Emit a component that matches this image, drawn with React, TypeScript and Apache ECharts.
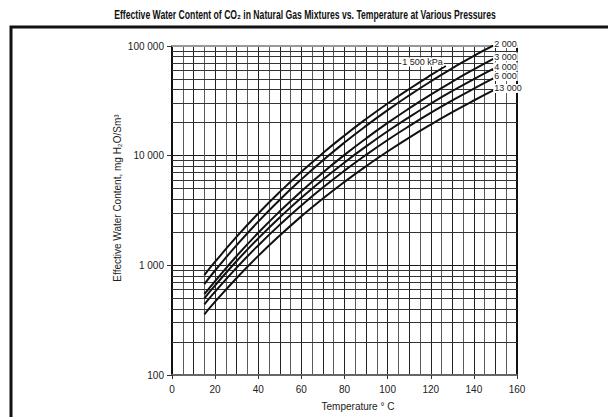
import React, { useEffect, useRef } from "react";
import * as echarts from "echarts";

// Temperatures (°C) at which curves were read
const temperatures = [15, 20, 30, 40, 50, 60, 70, 80, 90, 100, 110, 120, 130, 140, 149];
const temperatures1500 = [15, 20, 30, 40, 50, 60, 70, 80, 90, 100, 110, 120, 127];

// Effective water content, mg H2O/Sm3
const water1500 = [816, 1079, 1825, 2972, 4673, 7125, 10570, 15280, 21590, 29900, 40570, 54200, 65700];
const water2000 = [675, 897, 1528, 2504, 3963, 6078, 9066, 13180, 18700, 26010, 35480, 47540, 62710, 81470, 101000];
const water3000 = [545, 719, 1217, 1980, 3112, 4745, 7036, 10170, 14360, 19880, 26990, 36040, 47330, 61250, 76400];
const water4000 = [500, 656, 1095, 1760, 2736, 4126, 6058, 8674, 12150, 16690, 22480, 29790, 38870, 49990, 61900];
const water6000 = [441, 575, 953, 1519, 2345, 3513, 5126, 7299, 10170, 13890, 18620, 24550, 31920, 40890, 50600];
const water13000 = [357, 466, 767, 1219, 1875, 2798, 4064, 5768, 8017, 10920, 14620, 19230, 24910, 31840, 39300];

const curveLabels = ["1 500 kPa", "2 000", "3 000", "4 000", "6 000", "13 000"];

// Log-grid minor lines
const minorYLines = [
  200, 300, 400, 500, 600, 700, 800, 900,
  2000, 3000, 4000, 5000, 6000, 7000, 8000, 9000,
  20000, 30000, 40000, 50000, 60000, 70000, 80000, 90000,
];

const FONT = '"Liberation Sans", Arial, Helvetica, sans-serif';

function fmt(v: number) {
  return String(Math.round(v)).replace(/\B(?=(\d{3})+(?!\d))/g, " ");
}

export default function App() {
  const ref = useRef<HTMLDivElement>(null);
  useEffect(() => {
    if (!ref.current) return;
    const chart = echarts.init(ref.current, undefined, { renderer: "svg" });

    const curves = [
      { t: temperatures1500, v: water1500 },
      { t: temperatures, v: water2000 },
      { t: temperatures, v: water3000 },
      { t: temperatures, v: water4000 },
      { t: temperatures, v: water6000 },
      { t: temperatures, v: water13000 },
    ];

    const curveSeries = curves.map((c, i) => ({
      type: "line",
      name: curveLabels[i],
      xAxisIndex: 0,
      yAxisIndex: 0,
      data: c.t.map((t, j) => [t, c.v[j]]),
      smooth: true,
      showSymbol: false,
      symbol: "none",
      z: 5,
      lineStyle: { color: "#111", width: 2 },
      itemStyle: { color: "#111" },
      endLabel: {
        show: true,
        formatter: curveLabels[i],
        fontFamily: FONT,
        fontSize: 9,
        color: "#222",
        backgroundColor: "#fff",
        padding: [0, 1],
        distance: i === 0 ? 4 : 0,
        align: i === 0 ? "right" : "left",
        offset: i === 0 ? [-6, -4] : [0, -2],
      },
    }));

    const gridSeries = {
      type: "line",
      xAxisIndex: 0,
      yAxisIndex: 0,
      data: [[0, 100]],
      showSymbol: false,
      symbol: "none",
      lineStyle: { opacity: 0 },
      silent: true,
      z: 1,
      markLine: {
        silent: true,
        symbol: "none",
        animation: false,
        label: { show: false },
        lineStyle: { color: "#333", width: 1, type: "solid", opacity: 1 },
        data: minorYLines.map((v) => ({ yAxis: v })),
      },
    };

    chart.setOption({
      animation: false,
      backgroundColor: "#fff",
      grid: { left: 172, right: 91, top: 46, bottom: 42, containLabel: false },
      xAxis: [
        {
          type: "value",
          min: 0,
          max: 160,
          interval: 20,
          position: "bottom",
          axisLine: { show: true, onZero: false, lineStyle: { color: "#666", width: 2 } },
          axisTick: { show: true, length: 4, lineStyle: { color: "#333" } },
          axisLabel: { margin: 9, fontSize: 10, color: "#222", fontFamily: FONT },
          splitLine: { show: true, lineStyle: { color: "#1a1a1a", width: 1 } },
          minorTick: { show: false, splitNumber: 4 },
          minorSplitLine: { show: true, lineStyle: { color: "#5a5a5a", width: 1 } },
        },
        {
          type: "value",
          min: 0,
          max: 160,
          interval: 10,
          position: "top",
          axisLine: { show: true, onZero: false, lineStyle: { color: "#999", width: 2 } },
          axisTick: { show: false },
          axisLabel: { show: false },
          splitLine: { show: true, lineStyle: { color: "#222", width: 1 } },
        },
      ],
      yAxis: [
        {
          type: "log",
          logBase: 10,
          min: 100,
          max: 100000,
          position: "left",
          axisLine: { show: true, onZero: false, lineStyle: { color: "#111", width: 2 } },
          axisTick: { show: true, length: 5, lineStyle: { color: "#333" } },
          axisLabel: { margin: 8, fontSize: 10, color: "#222", fontFamily: FONT, formatter: (v: number) => fmt(v) },
          splitLine: { show: true, lineStyle: { color: "#1a1a1a", width: 1 } },
        },
        {
          type: "log",
          logBase: 10,
          min: 100,
          max: 100000,
          position: "right",
          axisLine: { show: true, onZero: false, lineStyle: { color: "#111", width: 2 } },
          axisTick: { show: false },
          axisLabel: { show: false },
          splitLine: { show: false },
        },
      ],
      graphic: [
        {
          type: "polyline",
          silent: true,
          shape: { points: [[11, 417], [11, 27], [608, 27]] },
          style: { stroke: "#111", lineWidth: 3, fill: "none" },
        },
        {
          type: "text",
          x: 305,
          y: 15,
          scaleX: 0.72,
          style: {
            text: "Effective Water Content of CO₂ in Natural Gas Mixtures vs. Temperature at Various Pressures",
            font: 'bold 12px "Liberation Sans", Arial, sans-serif',
            fill: "#111",
            textAlign: "center",
            textVerticalAlign: "middle",
          },
        },
        {
          type: "text",
          x: 117,
          y: 198,
          rotation: Math.PI / 2,
          style: {
            text: "Effective Water Content, mg H₂O/Sm³",
            font: '10px "Liberation Sans", Arial, sans-serif',
            fill: "#222",
            textAlign: "center",
            textVerticalAlign: "middle",
          },
        },
        {
          type: "text",
          x: 358,
          y: 406,
          style: {
            text: "Temperature ° C",
            font: '10px "Liberation Sans", Arial, sans-serif',
            fill: "#222",
            textAlign: "center",
            textVerticalAlign: "middle",
          },
        },
      ],
      series: [gridSeries, ...curveSeries],
    });

    return () => chart.dispose();
  }, []);

  return (
    <div
      ref={ref}
      style={{ position: "fixed", left: 0, top: 0, width: 608, height: 417, background: "#fff" }}
    />
  );
}
